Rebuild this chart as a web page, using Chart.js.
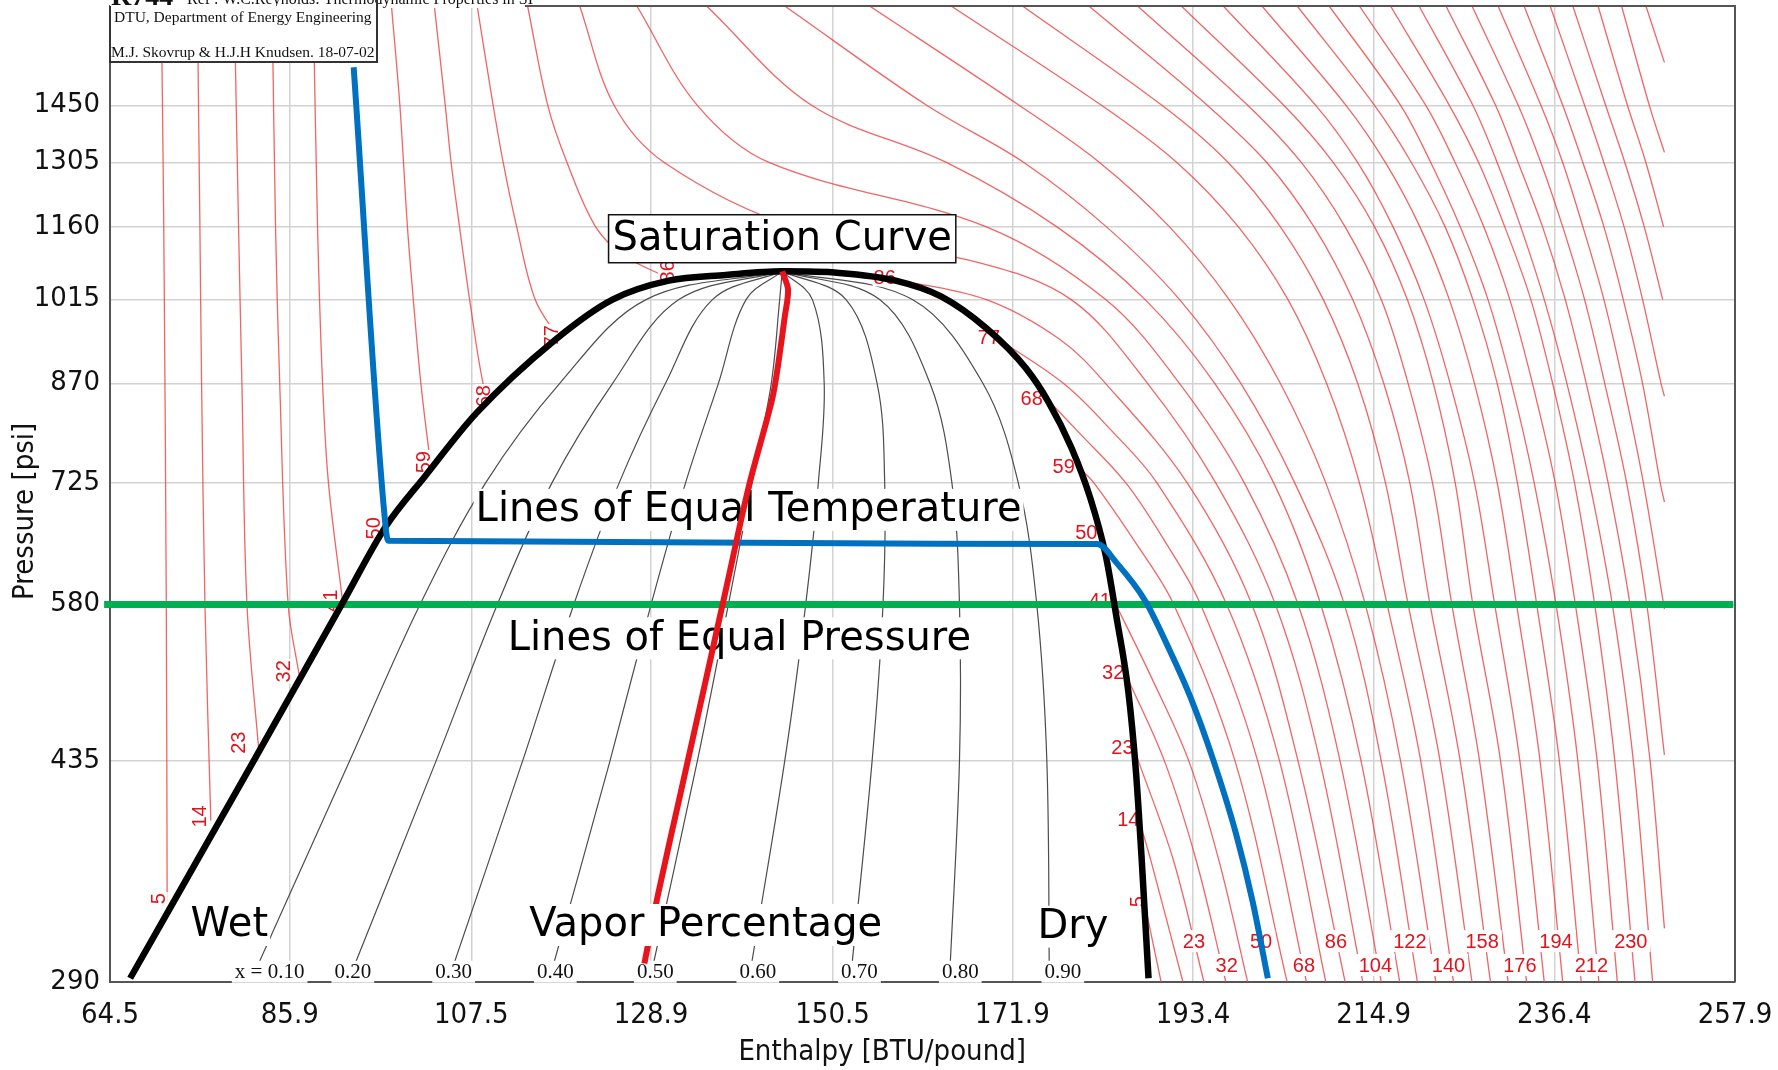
<!DOCTYPE html>
<html>
<head>
<meta charset="utf-8">
<title>R744 pressure-enthalpy chart</title>
<script src="https://cdn.jsdelivr.net/npm/chart.js@4.4.1/dist/chart.umd.min.js"></script>
<style>
  html, body { margin: 0; padding: 0; background: #fff; }
  #wrap { width: 1778px; height: 1070px; }
</style>
</head>
<body>
<div id="wrap"><canvas id="ph" width="1778" height="1070"></canvas></div>
<script>
// axes
const xTicks = [64.5, 85.9, 107.5, 128.9, 150.5, 171.9, 193.4, 214.9, 236.4, 257.9];
const yTicks = [290, 435, 580, 725, 870, 1015, 1160, 1305, 1450];
const yMax = 1740;

// saturation curve (enthalpy BTU/lb, pressure psi)
const satH = [66.9, 81.5, 92.2, 97.3, 102.0, 108.1, 117.5, 124.3, 131.0, 137.8, 144.5, 151.3, 158.0, 163.4, 168.8, 173.5, 176.2, 178.9, 181.2, 183.0, 184.3, 185.7, 186.6, 187.3, 188.1];
const satP = [292, 434, 582, 669, 734, 824, 943, 1015, 1051, 1062, 1069, 1066, 1051, 1021, 963, 895, 841, 774, 704, 635, 566, 494, 427, 362, 292];

// blue cycle line (50 F isotherm)
const blueH = [93.5, 97.3, 97.6, 182.0, 184.3, 187.7, 190.4, 193.1, 195.8, 198.5, 200.5, 202.3];
const blueP = [1555, 669, 652, 648, 626, 584, 537, 489, 436, 381, 336, 292];

// red vapour-percentage line
const redH = [128.1, 129.7, 132.4, 135.1, 137.8, 140.5, 143.3, 144.0, 144.8, 145.2, 144.5];
const redP = [300, 340, 410, 494, 596, 719, 845, 899, 983, 1034, 1069];

// green constant pressure line
const greenH = [63.8, 257.7];
const greenP = [580, 580];

// isotherms, liquid side (F)
const liqTemps = [5, 14, 23, 32, 41, 59, 68, 77, 86];
const liqP = [
  [1740, 1160, 580, 336],
  [1740, 1160, 870, 580, 390],
  [1740, 1160, 870, 580, 444],
  [1740, 1160, 870, 580, 510],
  [1740, 1160, 870, 725, 582],
  [1740, 1450, 1160, 1015, 870, 745],
  [1740, 1450, 1305, 1160, 1015, 870, 846],
  [1740, 1450, 1305, 1160, 1015, 947],
  [1740, 1450, 1305, 1160, 1100, 1055]
];
const liqH = [
  [70.6, 70.9, 71.2, 71.3],
  [74.9, 75.2, 75.4, 75.8, 76.5],
  [79.3, 79.8, 80.2, 80.8, 82.2],
  [83.8, 84.2, 84.7, 85.7, 87.0],
  [88.7, 89.2, 89.8, 90.5, 92.2],
  [98.0, 99.0, 99.9, 100.6, 101.5, 102.7],
  [103.1, 104.4, 105.1, 106.1, 107.3, 108.9, 109.7],
  [108.2, 110.1, 111.3, 112.9, 115.1, 117.8],
  [114.2, 116.6, 118.9, 122.3, 125.7, 131.1]
];

// isotherms, vapour side
const vapTemps = [5, 14, 23, 32, 41, 59, 68, 77, 86];
const vapP = [
  [336, 290],
  [390, 362, 290],
  [444, 435, 362, 290],
  [510, 435, 362, 290],
  [582, 508, 435, 362, 290],
  [745, 725, 652, 580, 435, 290],
  [846, 798, 725, 652, 580, 435, 290],
  [947, 870, 798, 725, 580, 435, 290],
  [1055, 1015, 943, 870, 725, 580, 435, 290]
];
const vapH = [
  [187.6, 189.6],
  [187.0, 188.4, 192.2],
  [186.4, 186.9, 191.1, 194.7],
  [185.4, 190.0, 193.8, 197.3],
  [184.1, 188.4, 192.9, 196.5, 199.9],
  [179.9, 181.6, 186.4, 191.1, 198.4, 204.6],
  [176.0, 179.6, 185.4, 190.0, 194.3, 201.1, 206.9],
  [169.9, 178.0, 183.7, 189.1, 197.4, 203.7, 209.2],
  [157.4, 168.8, 177.6, 183.0, 192.7, 200.4, 205.9, 211.5]
];

// isotherms above the critical point
const lv = [1740, 1450, 1305, 1160, 1015, 870, 725, 580, 435, 290];
const superTemps = [95, 104, 113, 122, 131, 140, 149, 158, 167, 176, 185, 194, 203, 212, 221, 230, 239, 248, 257, 266, 275, 284, 293, 302, 311, 320];
const superP = [
  [1740, 1450, 1305, 1160, 1088, 1015, 870, 725, 580, 435, 290],
  lv, lv, lv, lv, lv, lv, lv, lv, lv, lv, lv, lv, lv, lv, lv, lv,
  [1740, 1450, 1305, 1160, 1015, 870, 725, 580, 435, 320],
  [1740, 1450, 1305, 1160, 1015, 870, 725, 580, 440],
  [1740, 1450, 1305, 1160, 1015, 870, 725, 575],
  [1740, 1450, 1305, 1160, 1015, 870, 725, 700],
  [1740, 1450, 1305, 1160, 1015, 870, 850],
  [1740, 1450, 1305, 1160, 1015],
  [1740, 1450, 1305, 1160],
  [1740, 1450, 1330],
  [1740, 1569]
];
const superH = [
  [120.4, 124.5, 130.5, 145.9, 167.5, 178.9, 188.0, 196.1, 203.2, 208.5, 213.6],
  [127.2, 134.4, 143.0, 168.8, 183.0, 191.8, 199.5, 205.9, 210.9, 215.8],
  [135.5, 148.0, 164.1, 177.2, 187.7, 196.0, 203.0, 208.6, 213.4, 218.0],
  [144.8, 161.7, 173.3, 183.1, 191.8, 199.1, 205.5, 211.4, 215.8, 220.1],
  [154.9, 172.7, 182.3, 190.6, 197.7, 203.8, 209.2, 213.9, 218.1, 222.3],
  [164.6, 182.5, 191.5, 198.8, 204.7, 209.3, 213.2, 216.5, 220.5, 224.4],
  [173.1, 189.7, 197.6, 203.8, 208.9, 213.0, 216.3, 219.0, 222.8, 226.6],
  [181.0, 195.1, 202.2, 207.8, 212.4, 216.1, 219.2, 221.6, 225.2, 228.8],
  [186.8, 199.9, 206.3, 211.5, 215.8, 219.0, 221.9, 224.2, 227.5, 230.9],
  [192.0, 204.2, 210.1, 215.0, 218.9, 222.0, 224.6, 226.7, 230.0, 233.1],
  [197.0, 208.0, 213.0, 217.2, 220.9, 224.0, 226.9, 229.3, 232.3, 235.2],
  [201.6, 211.6, 216.3, 220.4, 223.9, 226.9, 229.6, 231.9, 234.7, 237.4],
  [205.8, 215.0, 219.4, 223.4, 226.7, 229.6, 232.0, 234.3, 237.0, 239.6],
  [209.6, 218.1, 221.7, 225.2, 228.5, 231.3, 234.0, 236.6, 239.2, 241.7],
  [213.2, 221.1, 224.6, 228.0, 231.1, 233.8, 236.5, 238.9, 241.5, 243.9],
  [216.9, 223.9, 227.4, 230.5, 233.6, 236.2, 238.8, 241.2, 243.6, 246.0],
  [220.3, 226.7, 229.6, 232.4, 235.2, 237.9, 240.6, 243.3, 245.8, 248.1],
  [223.5, 229.4, 232.1, 235.0, 237.7, 240.2, 242.8, 245.4, 247.8, 249.5],
  [226.6, 232.1, 234.8, 237.4, 240.0, 242.4, 245.0, 247.4, 249.5],
  [229.7, 234.8, 237.4, 239.8, 242.3, 244.6, 247.0, 249.5],
  [232.8, 237.4, 239.8, 242.3, 244.6, 246.9, 249.0, 249.5],
  [235.9, 240.0, 242.3, 244.7, 246.9, 249.1, 249.5],
  [238.6, 242.5, 244.8, 247.1, 249.3],
  [241.6, 245.1, 247.3, 249.4],
  [244.4, 247.7, 249.5],
  [247.3, 249.5]
];

// vapour quality lines x = 0.1 ... 0.9
const qualNames = ['x = 0.10', '0.20', '0.30', '0.40', '0.50', '0.60', '0.70', '0.80', '0.90'];
const qualP = [290, 435, 580, 725, 870, 1015, 1069];
const qualH = [
  [81.2, 93.0, 101.4, 109.2, 118.0, 128.3, 144.5],
  [92.8, 103.3, 110.6, 117.1, 124.3, 132.2, 144.5],
  [104.7, 113.6, 119.7, 125.1, 130.6, 136.2, 144.5],
  [116.7, 124.0, 128.9, 133.0, 136.9, 140.2, 144.5],
  [128.7, 134.4, 138.1, 140.9, 143.2, 144.2, 144.5],
  [140.5, 144.8, 147.3, 148.8, 149.5, 148.1, 144.5],
  [152.6, 155.2, 156.5, 156.7, 155.8, 152.1, 144.5],
  [164.4, 165.6, 165.6, 164.7, 162.1, 156.1, 144.5],
  [176.3, 176.0, 174.8, 172.6, 168.4, 160.0, 144.5]
];

// label placements (data units)
const leftLabels = ['5', '14', '23', '32', '41', '50', '59', '68', '77', '86'];
const leftLabelH = [70.3, 75.2, 79.8, 85.2, 90.7, 95.9, 101.8, 109.0, 117.0, 130.8];
const leftLabelP = [338, 393, 450, 513, 584, 667, 753, 850, 949, 1069];
const rightLabels = ['86', '77', '68', '59', '50', '41', '32', '23', '14', '5'];
const rightLabelH = [156.7, 169.1, 174.2, 178.0, 180.7, 182.3, 183.9, 185.0, 185.7, 186.8];
const rightLabelP = [1058, 947, 847, 747, 662, 584, 512, 446, 391, 336];
const bottomLabels = ['23', '32', '50', '68', '86', '104', '122', '140', '158', '176', '194', '212', '230'];
const bottomLabelH = [193.5, 197.4, 201.5, 206.6, 210.4, 215.1, 219.2, 223.8, 227.8, 232.3, 236.6, 240.8, 245.5];
const bottomLabelP = [312.6, 299.2, 312.6, 299.2, 312.6, 299.2, 312.6, 299.2, 312.6, 299.2, 312.6, 299.2, 312.6];
const qualLabelH = [83.5, 93.4, 105.4, 117.5, 129.4, 141.6, 153.7, 165.7, 177.9];
const qualLabelP = 295.5;

const ISO = 'rgba(236, 62, 62, 0.8)';
const RED_TXT = '#e3121b';
const BIG = '40px "DejaVu Sans"';

function line(hs, ps, color, width, order, extra) {
  return Object.assign({
    data: hs.map((h, i) => ({ x: h, y: ps[i] })),
    showLine: true,
    borderColor: color,
    borderWidth: width,
    pointRadius: 0,
    pointHoverRadius: 0,
    tension: 0.35,
    fill: false,
    order: order
  }, extra || {});
}

const datasets = [];
liqH.forEach((hs, i) => datasets.push(line(hs, liqP[i], ISO, 1.3, 10)));
vapH.forEach((hs, i) => datasets.push(line(hs, vapP[i], ISO, 1.3, 10)));
superH.forEach((hs, i) => datasets.push(line(hs, superP[i], ISO, 1.3, 10)));
qualH.forEach(hs => datasets.push(line(hs, qualP, '#4d4d4d', 1.2, 9)));
datasets.push(line(greenH, greenP, '#00b050', 7, 4, { tension: 0, clip: false, labelsUnder: true }));
datasets.push(line(satH, satP, '#000', 6.5, 3, { cubicInterpolationMode: 'monotone' }));
datasets.push(line(blueH, blueP, '#0070c0', 6, 2, { cubicInterpolationMode: 'monotone' }));
datasets.push(line(redH, redP, '#e8141c', 6, 1, { tension: 0.3 }));

function tag(ctx, text, x, y, font, color, rot, padX, boxH, border) {
  ctx.save();
  ctx.translate(x, y);
  if (rot) ctx.rotate(rot);
  ctx.font = font;
  const w = ctx.measureText(text).width + 2 * padX;
  ctx.fillStyle = '#fff';
  ctx.fillRect(-w / 2, -boxH / 2, w, boxH);
  if (border) {
    ctx.strokeStyle = '#111';
    ctx.lineWidth = 1.5;
    ctx.strokeRect(-w / 2, -boxH / 2, w, boxH);
  }
  ctx.fillStyle = color;
  ctx.textAlign = 'center';
  ctx.textBaseline = 'middle';
  ctx.fillText(text, 0, 1);
  ctx.restore();
}

function drawUnder(chart) {
  const { ctx } = chart;
  const X = chart.scales.x, Y = chart.scales.y;
  const rf = '20px "Liberation Sans"';
  leftLabels.forEach((t, i) => tag(ctx, t, X.getPixelForValue(leftLabelH[i]), Y.getPixelForValue(leftLabelP[i]), rf, RED_TXT, -Math.PI / 2, 1, 18));
  rightLabels.forEach((t, i) => tag(ctx, t, X.getPixelForValue(rightLabelH[i]), Y.getPixelForValue(rightLabelP[i]), rf, RED_TXT, t === '5' ? -Math.PI / 2 : 0, 1, 19));
  bottomLabels.forEach((t, i) => tag(ctx, t, X.getPixelForValue(bottomLabelH[i]), Y.getPixelForValue(bottomLabelP[i]), rf, RED_TXT, 0, 3, 22));
  qualNames.forEach((t, i) => tag(ctx, t, X.getPixelForValue(qualLabelH[i]), Y.getPixelForValue(qualLabelP), '21px "Liberation Serif"', '#111', 0, 3, 22));
  tag(ctx, 'Saturation Curve', X.getPixelForValue(144.5), Y.getPixelForValue(1135), BIG, '#000', 0, 4, 48, true);
  tag(ctx, 'Lines of Equal Temperature', X.getPixelForValue(140.5), Y.getPixelForValue(690), BIG, '#000', 0, 2, 42);
  tag(ctx, 'Lines of Equal Pressure', X.getPixelForValue(139.4), Y.getPixelForValue(545), BIG, '#000', 0, 2, 42);
  tag(ctx, 'Wet', X.getPixelForValue(78.7), Y.getPixelForValue(322), BIG, '#000', 0, 2, 42);
  tag(ctx, 'Dry', X.getPixelForValue(179.1), Y.getPixelForValue(321), BIG, '#000', 0, 2, 42);
}

function drawOver(chart) {
  const { ctx, chartArea: a } = chart;
  const X = chart.scales.x, Y = chart.scales.y;
  tag(ctx, 'Vapor Percentage', X.getPixelForValue(135.4), Y.getPixelForValue(322), BIG, '#000', 0, 2, 42);

  // frame top and right
  ctx.save();
  ctx.strokeStyle = '#555';
  ctx.lineWidth = 2;
  ctx.beginPath();
  ctx.moveTo(a.left, a.top);
  ctx.lineTo(a.right, a.top);
  ctx.lineTo(a.right, a.bottom);
  ctx.stroke();

  // header text, cut by the top edge
  ctx.fillStyle = '#fff';
  ctx.fillRect(a.left, 0, 415, 8);
  ctx.fillStyle = '#111';
  ctx.textBaseline = 'alphabetic';
  ctx.textAlign = 'left';
  ctx.font = 'bold 28px "Liberation Serif"';
  ctx.fillText('R744', a.left + 1, 5);
  ctx.font = '16px "Liberation Serif"';
  ctx.fillText('Ref : W.C.Reynolds: Thermodynamic Properties in SI', a.left + 77, 4);

  // info box
  ctx.fillStyle = '#fff';
  ctx.fillRect(a.left, 6, 267, 56);
  ctx.strokeStyle = '#333';
  ctx.lineWidth = 2;
  ctx.beginPath();
  ctx.moveTo(a.left, 6);
  ctx.lineTo(a.left, 62);
  ctx.lineTo(a.left + 267, 62);
  ctx.lineTo(a.left + 267, 0);
  ctx.stroke();
  ctx.fillStyle = '#111';
  ctx.font = '15.5px "Liberation Serif"';
  ctx.textBaseline = 'middle';
  ctx.fillText('DTU, Department of Energy Engineering', a.left + 4, 18);
  ctx.fillText('M.J. Skovrup & H.J.H Knudsen. 18-07-02', a.left + 1, 53);

  // axis titles
  ctx.font = '29px "DejaVu Sans Condensed"';
  ctx.textAlign = 'center';
  ctx.fillText('Enthalpy [BTU/pound]', X.getPixelForValue(156.4), 1052);
  ctx.translate(25, Y.getPixelForValue(688));
  ctx.rotate(-Math.PI / 2);
  ctx.fillText('Pressure [psi]', 0, 0);
  ctx.restore();
}

const overlay = {
  id: 'overlay',
  beforeDatasetDraw(chart, args) {
    if (chart.data.datasets[args.index].labelsUnder) drawUnder(chart);
  },
  afterDatasetsDraw(chart) {
    drawOver(chart);
  }
};

const gridStyle = { color: '#d2d2d2', lineWidth: 1.5, drawTicks: false };
const borderStyle = { color: '#555', width: 2 };

new Chart(document.getElementById('ph'), {
  type: 'scatter',
  data: { datasets: datasets },
  options: {
    responsive: false,
    animation: false,
    devicePixelRatio: 1,
    events: [],
    layout: { padding: { top: 6, right: 43, left: 0, bottom: 0 } },
    plugins: { legend: { display: false }, tooltip: { enabled: false } },
    scales: {
      x: {
        type: 'linear',
        min: 64.5,
        max: 257.9,
        afterBuildTicks: s => { s.ticks = xTicks.map(v => ({ value: v })); },
        afterFit: s => { s.height = 88; s.paddingLeft = 0; s.paddingRight = 0; },
        ticks: {
          autoSkip: false, maxRotation: 0, padding: 16, color: '#111',
          font: { family: 'DejaVu Sans Condensed', size: 29 },
          callback: v => Number(v).toFixed(1)
        },
        grid: gridStyle,
        border: borderStyle
      },
      y: {
        type: 'logarithmic',
        min: 290,
        max: yMax,
        afterBuildTicks: s => { s.ticks = yTicks.map(v => ({ value: v })); },
        afterFit: s => { s.width = 110; s.paddingTop = 0; s.paddingBottom = 0; },
        ticks: {
          autoSkip: false, padding: 10, color: '#111',
          font: { family: 'DejaVu Sans', size: 26 },
          callback: v => String(v)
        },
        grid: gridStyle,
        border: borderStyle
      }
    }
  },
  plugins: [overlay]
});
</script>
</body>
</html>
